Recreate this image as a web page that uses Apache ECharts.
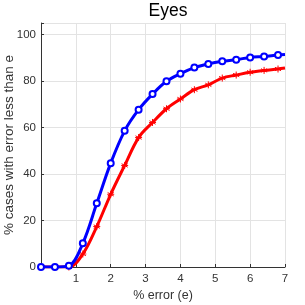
<!DOCTYPE html>
<html><head><meta charset="utf-8">
<script src="https://cdn.jsdelivr.net/npm/echarts@6/dist/echarts.min.js"></script>
<style>html,body{margin:0;padding:0;background:#fff}#c{width:305px;height:305px}</style>
</head><body><div id="c"></div>
<script>
const errX = [0, 0.4, 0.8, 1.2, 1.6, 2.0, 2.4, 2.8, 3.2, 3.6, 4.0, 4.4, 4.8, 5.2, 5.6, 6.0, 6.4, 6.8, 7.0];
const blueVals = [0, 0, 0.5, 10.2, 27.4, 44.7, 58.6, 67.7, 74.4, 79.9, 83.2, 85.8, 87.4, 88.5, 89.2, 90.2, 90.6, 91.2, 91.4];
const redVals = [0, 0, 0, 5.6, 17.4, 31.3, 43.7, 55.7, 62.2, 68.1, 72.3, 76.3, 78.4, 81.3, 82.6, 83.8, 84.6, 85.2, 85.6];
const xTicks = [0, 1, 2, 3, 4, 5, 6, 7];
const yTicks = [0, 20, 40, 60, 80, 100];

const asterisk = 'path://M0,-1L0,1M-0.87,-0.5L0.87,0.5M-0.87,0.5L0.87,-0.5M-1,0L1,0';
function mk(vals) {
  return errX.map((x, i) => {
    const p = {value: [x, vals[i]]};
    if (i === errX.length - 1) p.symbol = 'none';
    return p;
  });
}
const font = 'Liberation Sans, Arial, sans-serif';
const chart = echarts.init(document.getElementById('c'), null, {renderer: 'canvas'});
chart.setOption({
  animation: false,
  title: {text: 'Eyes', left: 163, top: -3, textAlign: 'center',
    textStyle: {fontFamily: font, fontSize: 17.5, fontWeight: 'normal', color: '#000'}},
  grid: {left: 41, right: 20, top: 23, bottom: 38, containLabel: false, outerBoundsMode: 'none'},
  xAxis: {
    type: 'value', min: 0, max: 7, interval: 1,
    name: '% error (e)', nameLocation: 'middle', nameGap: 22, nameMoveOverlap: false,
    nameTextStyle: {fontFamily: font, fontSize: 12.5, color: '#333'},
    axisLine: {show: true, lineStyle: {color: '#333', width: 1}},
    axisTick: {show: true, inside: true, length: 3, lineStyle: {color: '#333'}},
    axisLabel: {fontFamily: font, fontSize: 11.5, color: '#333', margin: 6,
      formatter: v => v === 0 ? '' : String(v)},
    splitLine: {show: true, lineStyle: {color: '#e3e3e3', width: 1}}
  },
  yAxis: {
    type: 'value', min: 0, max: 105, interval: 20,
    name: '% cases with error less than e', nameLocation: 'middle', nameGap: 25, nameMoveOverlap: false,
    nameTextStyle: {fontFamily: font, fontSize: 13.5, color: '#333'},
    axisLine: {show: true, lineStyle: {color: '#333', width: 1}},
    axisTick: {show: true, inside: true, length: 3, lineStyle: {color: '#333'}},
    axisLabel: {fontFamily: font, fontSize: 11.5, color: '#333', margin: 5,
      formatter: v => yTicks.includes(v) ? String(v) : ''},
    splitLine: {show: true, lineStyle: {color: '#e3e3e3', width: 1}}
  },
  series: [
    {type: 'line', data: mk(redVals), smooth: 0.35, symbol: asterisk, symbolSize: 7,
      lineStyle: {color: '#ff0000', width: 3}, itemStyle: {color: '#ff0000', borderColor: '#ff0000', borderWidth: 1}, z: 2},
    {type: 'line', data: mk(blueVals), smooth: 0.35, symbol: 'emptyCircle', symbolSize: 6,
      lineStyle: {color: '#0000ff', width: 3}, itemStyle: {color: '#0000ff', borderColor: '#0000ff', borderWidth: 1}, z: 3}
  ]
});
</script></body></html>
